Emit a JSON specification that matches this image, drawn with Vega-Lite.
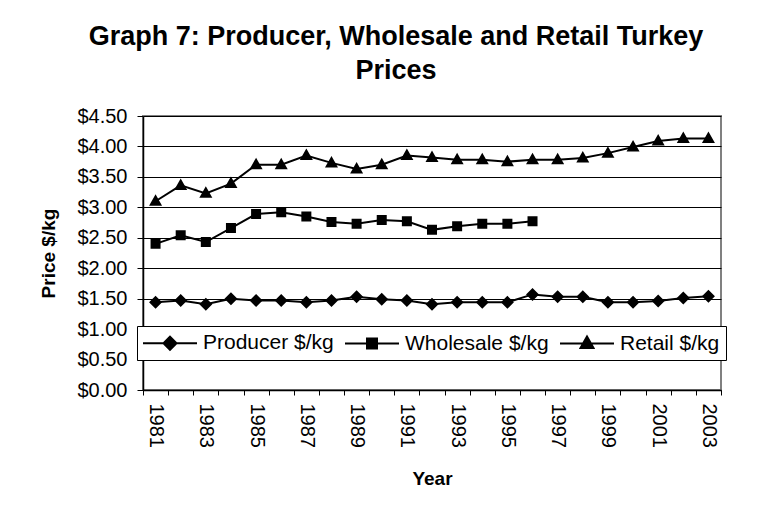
{
  "$schema": "https://vega.github.io/schema/vega-lite/v6.json",
  "autosize": {"type": "none"},
  "width": 578,
  "height": 274,
  "padding": {"left": 143, "top": 116, "right": 63, "bottom": 122},
  "background": "white",
  "title": {
    "text": ["Graph 7: Producer, Wholesale and Retail Turkey", "Prices"],
    "font": "Liberation Sans",
    "fontSize": 27,
    "fontWeight": "bold",
    "color": "black",
    "anchor": "middle",
    "dx": -36,
    "lineHeight": 34,
    "offset": 21
  },
  "config": {
    "font": "Liberation Sans",
    "view": {"stroke": "#808080", "strokeWidth": 2},
    "legend": {
      "title": null,
      "orient": "none",
      "direction": "horizontal",
      "legendX": -6,
      "legendY": 210,
      "fillColor": "white",
      "strokeColor": "black",
      "padding": 6,
      "labelFont": "Liberation Sans",
      "labelFontSize": 21,
      "labelColor": "black",
      "labelOffset": 22,
      "symbolOffset": 16,
      "columnPadding": 7,
      "symbolSize": 400,
      "symbolStrokeWidth": 2,
      "symbolStrokeColor": "black",
      "symbolFillColor": "black",
      "symbolOpacity": 1
    }
  },
  "data": {
    "values": [
      {"year": 1981, "series": "Producer $/kg", "price": 1.44},
      {"year": 1982, "series": "Producer $/kg", "price": 1.47},
      {"year": 1983, "series": "Producer $/kg", "price": 1.41},
      {"year": 1984, "series": "Producer $/kg", "price": 1.50},
      {"year": 1985, "series": "Producer $/kg", "price": 1.47},
      {"year": 1986, "series": "Producer $/kg", "price": 1.47},
      {"year": 1987, "series": "Producer $/kg", "price": 1.44},
      {"year": 1988, "series": "Producer $/kg", "price": 1.47},
      {"year": 1989, "series": "Producer $/kg", "price": 1.53},
      {"year": 1990, "series": "Producer $/kg", "price": 1.49},
      {"year": 1991, "series": "Producer $/kg", "price": 1.47},
      {"year": 1992, "series": "Producer $/kg", "price": 1.41},
      {"year": 1993, "series": "Producer $/kg", "price": 1.44},
      {"year": 1994, "series": "Producer $/kg", "price": 1.44},
      {"year": 1995, "series": "Producer $/kg", "price": 1.44},
      {"year": 1996, "series": "Producer $/kg", "price": 1.57},
      {"year": 1997, "series": "Producer $/kg", "price": 1.53},
      {"year": 1998, "series": "Producer $/kg", "price": 1.53},
      {"year": 1999, "series": "Producer $/kg", "price": 1.44},
      {"year": 2000, "series": "Producer $/kg", "price": 1.44},
      {"year": 2001, "series": "Producer $/kg", "price": 1.46},
      {"year": 2002, "series": "Producer $/kg", "price": 1.51},
      {"year": 2003, "series": "Producer $/kg", "price": 1.54},
      {"year": 1981, "series": "Wholesale $/kg", "price": 2.40},
      {"year": 1982, "series": "Wholesale $/kg", "price": 2.54},
      {"year": 1983, "series": "Wholesale $/kg", "price": 2.43},
      {"year": 1984, "series": "Wholesale $/kg", "price": 2.66},
      {"year": 1985, "series": "Wholesale $/kg", "price": 2.89},
      {"year": 1986, "series": "Wholesale $/kg", "price": 2.92},
      {"year": 1987, "series": "Wholesale $/kg", "price": 2.85},
      {"year": 1988, "series": "Wholesale $/kg", "price": 2.76},
      {"year": 1989, "series": "Wholesale $/kg", "price": 2.73},
      {"year": 1990, "series": "Wholesale $/kg", "price": 2.79},
      {"year": 1991, "series": "Wholesale $/kg", "price": 2.77},
      {"year": 1992, "series": "Wholesale $/kg", "price": 2.63},
      {"year": 1993, "series": "Wholesale $/kg", "price": 2.69},
      {"year": 1994, "series": "Wholesale $/kg", "price": 2.73},
      {"year": 1995, "series": "Wholesale $/kg", "price": 2.73},
      {"year": 1996, "series": "Wholesale $/kg", "price": 2.77},
      {"year": 1981, "series": "Retail $/kg", "price": 3.10},
      {"year": 1982, "series": "Retail $/kg", "price": 3.36},
      {"year": 1983, "series": "Retail $/kg", "price": 3.23},
      {"year": 1984, "series": "Retail $/kg", "price": 3.39},
      {"year": 1985, "series": "Retail $/kg", "price": 3.70},
      {"year": 1986, "series": "Retail $/kg", "price": 3.70},
      {"year": 1987, "series": "Retail $/kg", "price": 3.85},
      {"year": 1988, "series": "Retail $/kg", "price": 3.73},
      {"year": 1989, "series": "Retail $/kg", "price": 3.63},
      {"year": 1990, "series": "Retail $/kg", "price": 3.70},
      {"year": 1991, "series": "Retail $/kg", "price": 3.85},
      {"year": 1992, "series": "Retail $/kg", "price": 3.82},
      {"year": 1993, "series": "Retail $/kg", "price": 3.78},
      {"year": 1994, "series": "Retail $/kg", "price": 3.78},
      {"year": 1995, "series": "Retail $/kg", "price": 3.75},
      {"year": 1996, "series": "Retail $/kg", "price": 3.78},
      {"year": 1997, "series": "Retail $/kg", "price": 3.78},
      {"year": 1998, "series": "Retail $/kg", "price": 3.81},
      {"year": 1999, "series": "Retail $/kg", "price": 3.89},
      {"year": 2000, "series": "Retail $/kg", "price": 3.99},
      {"year": 2001, "series": "Retail $/kg", "price": 4.09},
      {"year": 2002, "series": "Retail $/kg", "price": 4.13},
      {"year": 2003, "series": "Retail $/kg", "price": 4.13}
    ]
  },
  "encoding": {
    "x": {
      "field": "year",
      "type": "ordinal",
      "scale": {"type": "band", "paddingInner": 0, "paddingOuter": 0},
      "axis": {
        "title": "Year",
        "titleFont": "Liberation Sans",
        "titleFontSize": 19,
        "titleFontWeight": "bold",
        "titleColor": "black",
        "titlePadding": 22,
        "labelFont": "Liberation Sans",
        "labelFontSize": 20,
        "labelColor": "black",
        "labelAngle": 90,
        "labelAlign": "left",
        "labelBaseline": "middle",
        "labelPadding": 8,
        "labelExpr": "datum.value % 2 == 1 ? datum.label : ''",
        "tickBand": "extent",
        "tickSize": 5,
        "tickColor": "black",
        "domainColor": "black",
        "domainWidth": 1.5,
        "grid": false
      }
    },
    "y": {
      "field": "price",
      "type": "quantitative",
      "scale": {"domain": [0, 4.5], "nice": false},
      "axis": {
        "title": "Price $/kg",
        "titleFont": "Liberation Sans",
        "titleFontSize": 19,
        "titleFontWeight": "bold",
        "titleColor": "black",
        "titlePadding": 18,
        "labelFont": "Liberation Sans",
        "labelFontSize": 20,
        "labelColor": "black",
        "labelPadding": 10,
        "format": "$.2f",
        "values": [0, 0.5, 1, 1.5, 2, 2.5, 3, 3.5, 4, 4.5],
        "tickSize": 6,
        "tickColor": "black",
        "domainColor": "black",
        "domainWidth": 1.5,
        "grid": true,
        "gridColor": "black",
        "gridWidth": 1
      }
    }
  },
  "layer": [
    {
      "mark": {"type": "line", "strokeWidth": 2},
      "encoding": {
        "color": {
          "field": "series",
          "type": "nominal",
          "scale": {
            "domain": ["Producer $/kg", "Wholesale $/kg", "Retail $/kg"],
            "range": ["black", "black", "black"]
          }
        }
      }
    },
    {
      "mark": {"type": "point", "filled": true, "opacity": 1, "size": 400},
      "encoding": {
        "color": {
          "field": "series",
          "type": "nominal",
          "scale": {
            "domain": ["Producer $/kg", "Wholesale $/kg", "Retail $/kg"],
            "range": ["black", "black", "black"]
          }
        },
        "shape": {
          "field": "series",
          "type": "nominal",
          "scale": {
            "domain": ["Producer $/kg", "Wholesale $/kg", "Retail $/kg"],
            "range": [
              "M-2.7,0L2.7,0M0,-0.65L0.65,0L0,0.65L-0.65,0Z",
              "M-2.7,0L2.7,0M-0.5,-0.5L0.5,-0.5L0.5,0.5L-0.5,0.5Z",
              "M-2.7,0L2.7,0M0,-0.7L0.65,0.45L-0.65,0.45Z"
            ]
          }
        }
      }
    }
  ]
}
